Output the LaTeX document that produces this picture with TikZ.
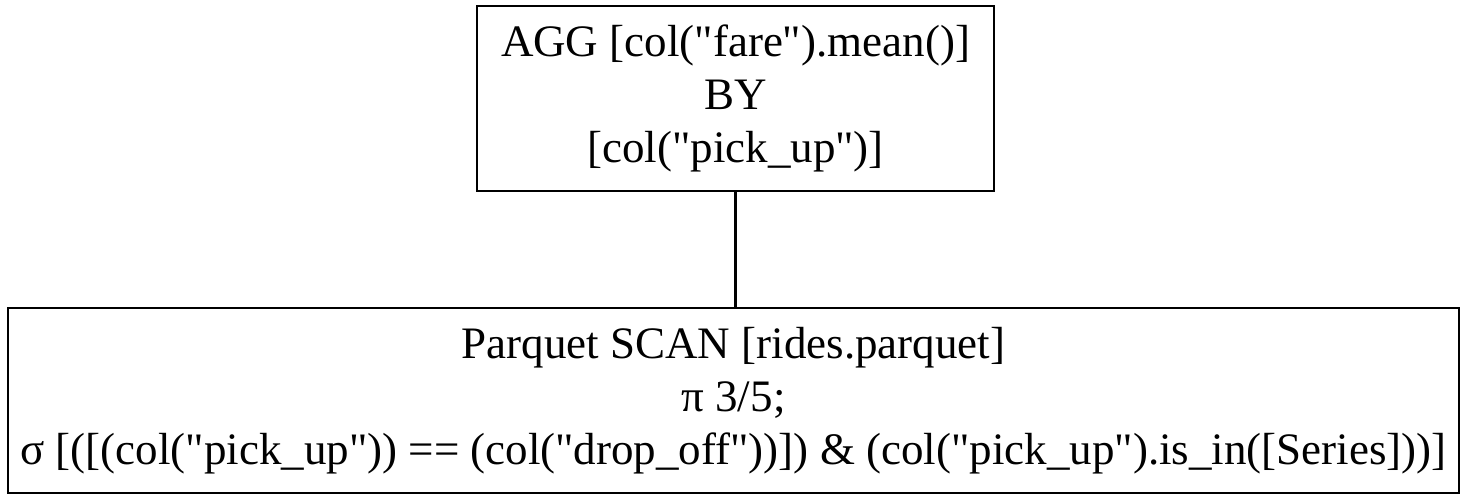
\documentclass[tikz,border=0pt]{standalone}
\usepackage{fontspec}
\setmainfont{Liberation Serif}[Ligatures=TeXOff]
\usepackage{tikz}
\newcommand{\plantext}{\fontsize{22.5}{26.5}\selectfont}

\begin{document}
\begin{tikzpicture}[x=0.5pt, y=-0.5pt,
    opbox/.style={draw, line width=1.2pt, align=center, inner sep=0pt, font=\plantext}]
    \useasboundingbox (0,0) rectangle (1465,500);
    \node[opbox, minimum width=258.5pt, minimum height=92.5pt] (agg) at (735.5,98.5)
        {AGG [col("fare").mean()]\\BY\\{[}col("pick\_up")]};
    \node[opbox, minimum width=725.5pt, minimum height=92.5pt] (scan) at (733.5,400.5)
        {Parquet SCAN [rides.parquet]\\π 3/5;\\σ [([(col("pick\_up")) == (col("drop\_off"))]) \& (col("pick\_up").is\_in([Series]))]};
    \draw[line width=1.2pt] (agg.south) -- (agg.south |- scan.north);
\end{tikzpicture}
\end{document}
